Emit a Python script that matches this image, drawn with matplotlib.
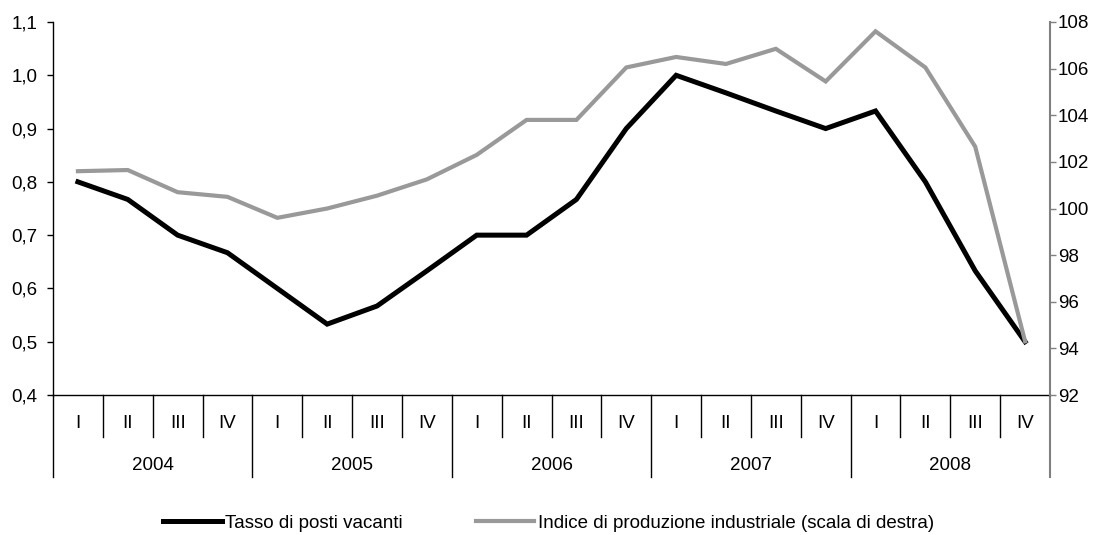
import numpy as np
import matplotlib as mpl
import matplotlib.pyplot as plt
from matplotlib.ticker import FuncFormatter, MultipleLocator
import matplotlib.transforms as mtransforms

mpl.rc('font', family='Liberation Sans', size=13.5)

##### DATA #####
years = ["2004", "2005", "2006", "2007", "2008"]
quarters = ["I", "II", "III", "IV"]

# vacancy rate (left axis)
tassoVacanti = [0.80, 0.767, 0.70, 0.667,
                0.60, 0.533, 0.567, 0.633,
                0.70, 0.70, 0.767, 0.90,
                1.00, 0.967, 0.933, 0.90,
                0.933, 0.80, 0.633, 0.50]

# industrial production index (right axis)
indiceProd = [101.6, 101.65, 100.7, 100.5,
              99.6, 100.0, 100.55, 101.25,
              102.3, 103.8, 103.8, 106.05,
              106.5, 106.2, 106.85, 105.45,
              107.6, 106.05, 102.65, 94.3]

labelTasso = "Tasso di posti vacanti"
labelIndice = "Indice di produzione industriale (scala di destra)"

##### PLOT #####
greyCol = "#999999"
axisGrey = "#808080"

fig = plt.figure(figsize=(11.02, 5.35), dpi=100)
ax = fig.add_axes([53/1102, 1 - 395/535, (1050 - 53)/1102, (395 - 22)/535])
ax2 = ax.twinx()

nQ = len(tassoVacanti)
x = np.arange(nQ)

l1, = ax.plot(x, tassoVacanti, color="black", lw=3.6, solid_joinstyle="miter",
              label=labelTasso)
l2, = ax2.plot(x, indiceProd, color=greyCol, lw=3.0, solid_joinstyle="miter",
               label=labelIndice)

ax.set_xlim(-0.5, nQ - 0.5)
ax.set_ylim(0.4, 1.1)
ax2.set_ylim(92, 108)
ax.yaxis.set_major_locator(MultipleLocator(0.1))
ax2.yaxis.set_major_locator(MultipleLocator(2))
ax.yaxis.set_major_formatter(FuncFormatter(lambda v, p: ("%.1f" % v).replace(".", ",")))
ax2.yaxis.set_major_formatter(FuncFormatter(lambda v, p: "%d" % round(v)))

for a in (ax, ax2):
    a.spines['top'].set_visible(False)
    a.set_xticks([])
ax2.spines['left'].set_visible(False)
ax2.spines['bottom'].set_visible(False)
ax.spines['right'].set_visible(False)
ax.spines['left'].set_color("black")
ax.spines['bottom'].set_color("black")
ax2.spines['right'].set_color(axisGrey)
for s in ('left', 'bottom'):
    ax.spines[s].set_linewidth(1.0)
ax2.spines['right'].set_linewidth(1.5)

ax.tick_params(axis='y', direction='out', length=4, width=1.0, pad=7, colors="black")
ax2.tick_params(axis='y', direction='out', length=4, width=1.0, pad=1.5,
                color=axisGrey, labelcolor="black")

# category axis: separators and labels below the plot
trans = mtransforms.blended_transform_factory(ax.transData, ax.transAxes)
qBottom = -(437 - 395) / 373
yBottom = -(477 - 395) / 373
qLabelY = -(423 - 395) / 373
yLabelY = -(465 - 395) / 373

for i in range(nQ + 1):
    xb = i - 0.5
    if i % 4 == 0:
        col = axisGrey if i == nQ else "black"
        ax.plot([xb, xb], [0, yBottom], color=col, lw=1.5 if i == nQ else 1.0,
                transform=trans, clip_on=False)
    else:
        ax.plot([xb, xb], [0, qBottom], color="black", lw=1.0,
                transform=trans, clip_on=False)

for i in range(nQ):
    ax.text(i, qLabelY, quarters[i % 4], transform=trans, ha="center", va="center")
for j, yr in enumerate(years):
    ax.text(j * 4 + 1.5, yLabelY, yr, transform=trans, ha="center", va="center")

fig.legend(handles=[l1, l2], loc="center", bbox_to_anchor=(0.498, 1 - 523/535),
           ncol=2, frameon=False, handlelength=3.1, handletextpad=0.2,
           columnspacing=3.9, borderaxespad=0)

plt.savefig("out.png", dpi=100)
